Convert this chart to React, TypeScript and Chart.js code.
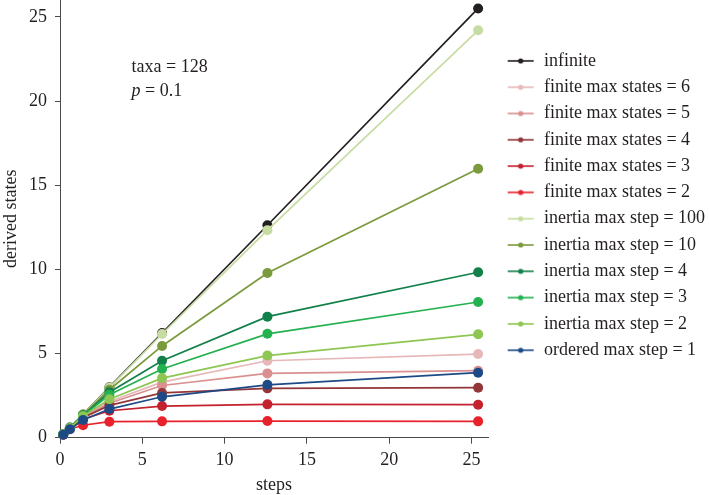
import { useEffect, useRef } from 'react';
import { Chart, registerables } from 'chart.js';

Chart.register(...registerables);

const steps = [0.2, 0.6, 1.4, 3.0, 6.2, 12.6, 25.4];
const xTicks = [0, 5, 10, 15, 20, 25];
const yTicks = [0, 5, 10, 15, 20, 25];

const seriesNames = [
  'infinite',
  'finite max states = 6',
  'finite max states = 5',
  'finite max states = 4',
  'finite max states = 3',
  'finite max states = 2',
  'inertia max step = 100',
  'inertia max step = 10',
  'inertia max step = 4',
  'inertia max step = 3',
  'inertia max step = 2',
  'ordered max step = 1',
];

const seriesColors = [
  '#231f20',
  '#e6b8b9',
  '#d9908f',
  '#93363a',
  '#c4202e',
  '#e8222b',
  '#c7dca2',
  '#7b9a3c',
  '#11804a',
  '#24b14f',
  '#8dc652',
  '#1d4a86',
];

const infinite = [0.2, 0.6, 1.38, 3.0, 6.22, 12.62, 25.5];
const finite6 = [0.2, 0.56, 1.25, 2.15, 3.3, 4.57, 4.97];
const finite5 = [0.2, 0.55, 1.22, 2.05, 3.1, 3.82, 3.98];
const finite4 = [0.19, 0.55, 1.18, 1.92, 2.66, 2.93, 2.97];
const finite3 = [0.19, 0.54, 1.1, 1.6, 1.88, 1.98, 1.96];
const finite2 = [0.18, 0.5, 0.74, 0.95, 0.97, 0.99, 0.97];
const inertia100 = [0.2, 0.58, 1.38, 2.98, 6.16, 12.33, 24.2];
const inertia10 = [0.2, 0.58, 1.36, 2.85, 5.45, 9.78, 15.98];
const inertia4 = [0.2, 0.57, 1.33, 2.7, 4.57, 7.19, 9.83];
const inertia3 = [0.2, 0.57, 1.3, 2.55, 4.08, 6.17, 8.06];
const inertia2 = [0.2, 0.56, 1.28, 2.28, 3.54, 4.88, 6.14];
const ordered1 = [0.18, 0.5, 1.05, 1.7, 2.43, 3.14, 3.86];

const seriesValues = [
  infinite, finite6, finite5, finite4, finite3, finite2,
  inertia100, inertia10, inertia4, inertia3, inertia2, ordered1,
];

const FONT = '"Liberation Serif", "Times New Roman", serif';
const TEXT = '#231f20';
const AXIS = '#4a4a4a';

function legendMarker(color: string) {
  const c = document.createElement('canvas');
  c.width = 50;
  c.height = 12;
  const g = c.getContext('2d')!;
  g.strokeStyle = color;
  g.lineWidth = 1.6;
  g.beginPath();
  g.moveTo(17, 6);
  g.lineTo(43, 6);
  g.stroke();
  g.fillStyle = color;
  g.beginPath();
  g.arc(30, 6, 2.6, 0, Math.PI * 2);
  g.fill();
  return c;
}

const annotatePlugin = {
  id: 'annotate',
  afterDraw(chart: any) {
    const { ctx } = chart;
    const x = chart.scales.x;
    const y = chart.scales.y;
    const px = x.getPixelForValue(4.35);
    ctx.save();
    ctx.fillStyle = TEXT;
    ctx.textBaseline = 'middle';
    ctx.textAlign = 'left';
    ctx.font = `18px ${FONT}`;
    ctx.fillText('taxa = 128', px, y.getPixelForValue(22.0));
    const py = y.getPixelForValue(20.6);
    ctx.font = `italic 18px ${FONT}`;
    ctx.fillText('p', px, py);
    const w = ctx.measureText('p').width;
    ctx.font = `18px ${FONT}`;
    ctx.fillText(' = 0.1', px + w, py);
    ctx.restore();
  },
};

export default function App() {
  const ref = useRef<HTMLCanvasElement | null>(null);

  useEffect(() => {
    if (!ref.current) return;
    const datasets = seriesNames.map((name, i) => ({
      label: name,
      data: steps.map((s, j) => ({ x: s, y: seriesValues[i][j] })),
      borderColor: seriesColors[i],
      backgroundColor: seriesColors[i],
      pointBackgroundColor: seriesColors[i],
      pointBorderColor: seriesColors[i],
      borderWidth: 1.7,
      pointRadius: 5,
      pointBorderWidth: 0,
      tension: 0,
      clip: false,
      order: -i,
    }));

    const chart = new Chart(ref.current, {
      type: 'line',
      data: { datasets },
      plugins: [annotatePlugin],
      options: {
        responsive: false,
        animation: false,
        layout: { autoPadding: false, padding: { left: 0, right: 0, top: 0, bottom: 0 } },
        plugins: {
          tooltip: { enabled: false },
          legend: {
            position: 'right',
            align: 'start',
            maxWidth: 221,
            title: {
              display: true,
              text: '',
              font: { size: 18, family: FONT, lineHeight: 1.2 },
              padding: { top: 22, bottom: 0 },
            },
            labels: {
              usePointStyle: true,
              pointStyleWidth: 38.7,
              padding: 8.3,
              color: TEXT,
              font: { size: 18, family: FONT },
              generateLabels: (ch: any) =>
                ch.data.datasets.map((ds: any, i: number) => ({
                  text: ds.label,
                  fillStyle: ds.borderColor,
                  strokeStyle: ds.borderColor,
                  lineWidth: 0,
                  pointStyle: legendMarker(ds.borderColor),
                  hidden: false,
                  datasetIndex: i,
                  fontColor: TEXT,
                })),
            },
          },
        },
        scales: {
          x: {
            type: 'linear',
            min: 0,
            max: 26,
            afterBuildTicks: (axis: any) => {
              axis.ticks = xTicks.map((v) => ({ value: v }));
            },
            afterFit: (axis: any) => {
              axis.height = 57.3;
              axis.paddingTop = 0;
              axis.paddingBottom = 0;
            },
            grid: { drawOnChartArea: false, drawTicks: true, tickLength: 6, color: AXIS },
            border: { display: true, color: AXIS, width: 1 },
            ticks: { color: TEXT, font: { size: 18, family: FONT, lineHeight: 1.0 }, padding: 8, maxRotation: 0 },
            title: {
              display: true,
              text: 'steps',
              color: TEXT,
              font: { size: 18, family: FONT, lineHeight: 1.0 },
              padding: { top: 0, bottom: 1 },
            },
          },
          y: {
            type: 'linear',
            min: 0,
            max: 26,
            afterBuildTicks: (axis: any) => {
              axis.ticks = yTicks.map((v) => ({ value: v }));
            },
            afterFit: (axis: any) => {
              axis.width = 60;
              axis.paddingTop = 0;
              axis.paddingBottom = 0;
            },
            grid: { drawOnChartArea: false, drawTicks: true, tickLength: 5, color: AXIS },
            border: { display: true, color: AXIS, width: 1 },
            ticks: { color: TEXT, font: { size: 18, family: FONT }, padding: 8, autoSkip: false },
            title: {
              display: true,
              text: 'derived states',
              color: TEXT,
              font: { size: 18, family: FONT },
              padding: { top: 0, bottom: 0 },
            },
          },
        },
      },
    });
    return () => chart.destroy();
  }, []);

  return (
    <div style={{ position: 'absolute', left: 0, top: 0, width: 709, height: 495, background: '#fff' }}>
      <canvas ref={ref} width={709} height={495} style={{ display: 'block' }} />
    </div>
  );
}
